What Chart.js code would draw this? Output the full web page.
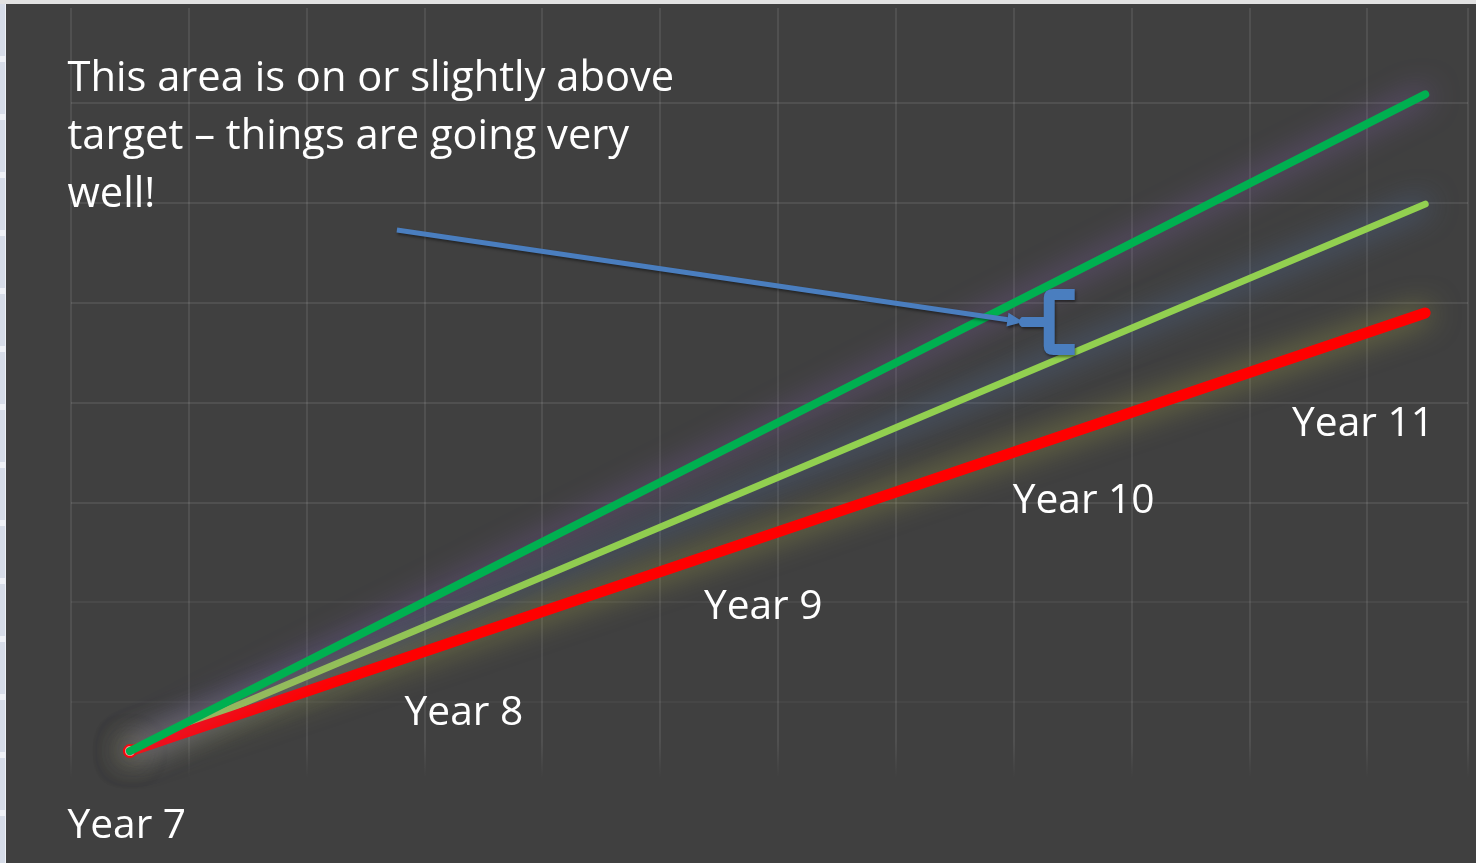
<!DOCTYPE html>
<html>
<head>
<meta charset="utf-8">
<script src="https://cdn.jsdelivr.net/npm/chart.js@4/dist/chart.umd.min.js"></script>
<style>
  html, body { margin: 0; padding: 0; background: #eef1f6; overflow: hidden; }
  canvas { display: block; }
</style>
</head>
<body>
<canvas id="grafico" width="1476" height="863"></canvas>
<script>
// trajectories (grid units: 1 x-unit = one column, 1 y-unit = one row)
const lineX = [0.5, 11.49];
const aboveTarget = [0.51, 7.09];
const onTarget = [0.51, 5.99];
const belowTarget = [0.51, 4.9];

// year labels along the bottom
const yearLabels = ["Year 7", "Year 8", "Year 9", "Year 10", "Year 11"];
const yearLabelX = [-0.03, 2.83, 5.37, 7.99, 10.36];
const yearLabelY = [-0.36, 0.77, 1.83, 2.9, 3.67];

// note text and arrow
const noteLines = ["This area is on or slightly above", "target \u2013 things are going very", "well!"];
const noteX = -0.03;
const noteY = [7.12, 6.54, 5.96];
const arrowX = [2.765, 8.08];
const arrowY = [5.73, 4.81];
const braceX = 8.27;
const braceY = 4.81;

const FONT = "'Open Sans', 'Noto Sans', sans-serif";

function toPoints(xs, ys) {
  return xs.map((x, i) => ({ x: x, y: ys[i] }));
}

function fitSize(ctx, text, width) {
  ctx.font = "100px " + FONT;
  return 100 * width / ctx.measureText(text).width;
}

const glow = ["rgba(140,100,190,0.8)", "rgba(90,130,200,0.85)", "rgba(170,170,70,0.75)"];

const fundoPlugin = {
  id: "fundo",
  beforeDraw(chart) {
    const ctx = chart.ctx;
    ctx.save();
    ctx.fillStyle = "#eef1f6";
    ctx.fillRect(0, 0, chart.width, chart.height);
    ctx.fillStyle = "#d6dce8";
    for (let y = 0; y < chart.height; y += 58) ctx.fillRect(0, y + 4, 5, 52);
    ctx.fillStyle = "#e2e2e2";
    ctx.fillRect(0, 0, chart.width, 4);
    ctx.fillStyle = "#404040";
    ctx.fillRect(6, 4, chart.width - 6, chart.height - 4);
    ctx.restore();
  }
};

const brilhoPlugin = {
  id: "brilho",
  beforeDatasetDraw(chart, args) {
    const ctx = chart.ctx;
    ctx.save();
    ctx.shadowColor = glow[args.index];
    ctx.shadowBlur = 30;
  },
  afterDatasetDraw(chart) {
    chart.ctx.restore();
  }
};

// hides the lower ends of the vertical grid lines, which fade out in the original
const rodapePlugin = {
  id: "rodape",
  beforeDatasetsDraw(chart) {
    const ctx = chart.ctx;
    const a = chart.chartArea;
    ctx.save();
    const g = ctx.createLinearGradient(0, a.bottom - 60, 0, a.bottom - 25);
    g.addColorStop(0, "rgba(64,64,64,0)");
    g.addColorStop(1, "rgba(64,64,64,1)");
    ctx.fillStyle = g;
    ctx.fillRect(a.left - 2, a.bottom - 60, a.right - a.left + 4, 62);
    ctx.restore();
  }
};

const textoPlugin = {
  id: "texto",
  afterDatasetsDraw(chart) {
    const ctx = chart.ctx;
    const xs = chart.scales.x, ys = chart.scales.y;
    ctx.save();

    // arrow
    const x0 = xs.getPixelForValue(arrowX[0]), y0 = ys.getPixelForValue(arrowY[0]);
    const x1 = xs.getPixelForValue(arrowX[1]), y1 = ys.getPixelForValue(arrowY[1]);
    const ang = Math.atan2(y1 - y0, x1 - x0);
    ctx.shadowColor = "rgba(0,0,0,0.45)";
    ctx.shadowBlur = 3;
    ctx.shadowOffsetX = 1;
    ctx.shadowOffsetY = 2;
    ctx.strokeStyle = "#4a7ebf";
    ctx.fillStyle = "#4a7ebf";
    ctx.lineWidth = 5;
    ctx.beginPath();
    ctx.moveTo(x0, y0);
    ctx.lineTo(x1 - 12 * Math.cos(ang), y1 - 12 * Math.sin(ang));
    ctx.stroke();
    ctx.beginPath();
    ctx.moveTo(x1, y1);
    ctx.lineTo(x1 - 16 * Math.cos(ang) + 7 * Math.sin(ang), y1 - 16 * Math.sin(ang) - 7 * Math.cos(ang));
    ctx.lineTo(x1 - 16 * Math.cos(ang) - 7 * Math.sin(ang), y1 - 16 * Math.sin(ang) + 7 * Math.cos(ang));
    ctx.closePath();
    ctx.fill();

    // brace
    const bx = xs.getPixelForValue(braceX), by = ys.getPixelForValue(braceY);
    ctx.beginPath();
    ctx.moveTo(bx - 24, by - 5);
    ctx.lineTo(bx - 2, by - 5);
    ctx.lineTo(bx - 2, by - 24);
    ctx.quadraticCurveTo(bx - 2, by - 33, bx + 8, by - 33);
    ctx.lineTo(bx + 29, by - 33);
    ctx.lineTo(bx + 29, by - 22);
    ctx.lineTo(bx + 9, by - 22);
    ctx.lineTo(bx + 9, by + 22);
    ctx.lineTo(bx + 29, by + 22);
    ctx.lineTo(bx + 29, by + 33);
    ctx.lineTo(bx + 8, by + 33);
    ctx.quadraticCurveTo(bx - 2, by + 33, bx - 2, by + 24);
    ctx.lineTo(bx - 2, by + 5);
    ctx.lineTo(bx - 24, by + 5);
    ctx.quadraticCurveTo(bx - 30, by, bx - 24, by - 5);
    ctx.closePath();
    ctx.fill();

    // texts
    ctx.shadowColor = "transparent";
    ctx.fillStyle = "#ffffff";
    ctx.textAlign = "left";
    ctx.textBaseline = "alphabetic";
    const noteSize = fitSize(ctx, noteLines[0], 607);
    ctx.font = noteSize + "px " + FONT;
    noteLines.forEach((t, i) => {
      ctx.fillText(t, xs.getPixelForValue(noteX), ys.getPixelForValue(noteY[i]));
    });
    const yearSize = fitSize(ctx, "Year 10", 142);
    ctx.font = yearSize + "px " + FONT;
    yearLabels.forEach((t, i) => {
      ctx.fillText(t, xs.getPixelForValue(yearLabelX[i]), ys.getPixelForValue(yearLabelY[i]));
    });
    ctx.restore();
  }
};

function corGradeY(c) {
  const v = c.tick ? c.tick.value : 0;
  if (v <= 0) return "rgba(255,255,255,0)";
  if (v === 1) return "rgba(255,255,255,0.035)";
  if (v === 2) return "rgba(255,255,255,0.05)";
  if (v >= 7.9) return "rgba(255,255,255,0)";
  return "rgba(255,255,255,0.085)";
}

new Chart(document.getElementById("grafico"), {
  type: "line",
  data: {
    datasets: [
      {
        label: "Above target",
        data: toPoints(lineX, aboveTarget),
        borderColor: "#00b050",
        borderWidth: 8,
        borderCapStyle: "round",
        pointRadius: 0,
        order: 0
      },
      {
        label: "On target",
        data: toPoints(lineX, onTarget),
        borderColor: "#92d050",
        borderWidth: 7,
        borderCapStyle: "round",
        pointRadius: 0,
        order: 2
      },
      {
        label: "Below target",
        data: toPoints(lineX, belowTarget),
        borderColor: "#ff0000",
        borderWidth: 11,
        borderCapStyle: "round",
        pointRadius: [6, 0],
        pointBorderWidth: 2,
        pointBorderColor: "#ff0000",
        pointBackgroundColor: "#ff9a9a",
        order: 1
      }
    ]
  },
  options: {
    responsive: false,
    animation: false,
    layout: { padding: { left: 71, top: 2, right: 0, bottom: 61 } },
    plugins: {
      legend: { display: false },
      tooltip: { enabled: false }
    },
    scales: {
      x: {
        type: "linear",
        min: 0,
        max: 11.853,
        ticks: { display: false, stepSize: 1 },
        grid: { color: "rgba(255,255,255,0.085)", lineWidth: 2, drawTicks: false },
        border: { display: false }
      },
      y: {
        type: "linear",
        min: 0,
        max: 7.955,
        ticks: { display: false, stepSize: 1 },
        grid: { color: corGradeY, lineWidth: 2, drawTicks: false },
        border: { display: false }
      }
    }
  },
  plugins: [fundoPlugin, rodapePlugin, brilhoPlugin, textoPlugin]
});
</script>
</body>
</html>
